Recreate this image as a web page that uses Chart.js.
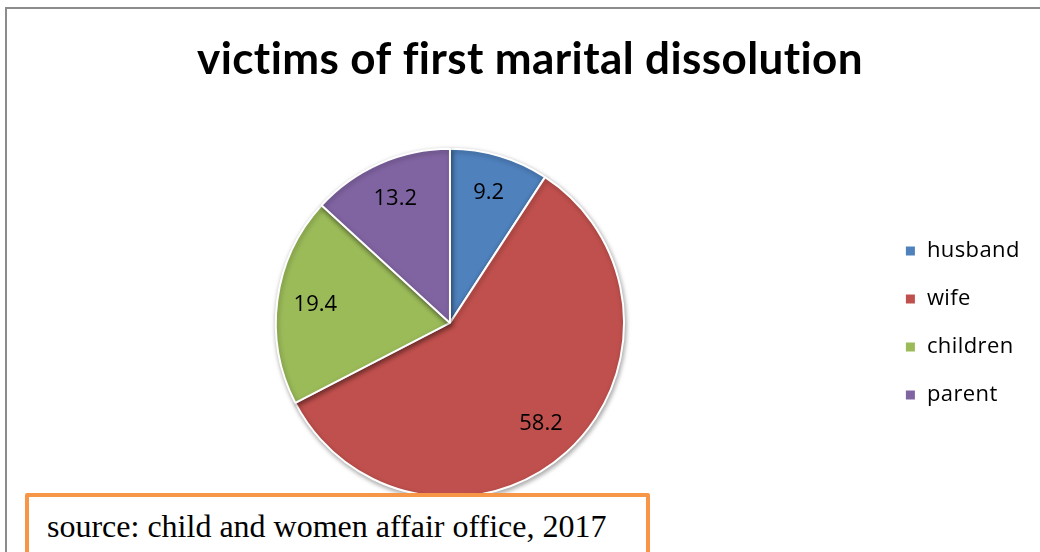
<!DOCTYPE html>
<html>
<head>
<meta charset="utf-8">
<script src="https://cdn.jsdelivr.net/npm/chart.js@4.4.1/dist/chart.umd.min.js"></script>
<style>
  html, body { margin: 0; padding: 0; width: 1040px; height: 552px; overflow: hidden; background: #fff; }
  #frame { position: absolute; left: 5px; top: 7px; width: 1100px; height: 700px; border-top: 2px solid #8c8c8c; border-left: 2px solid #8c8c8c; }
  #wrap { position: absolute; left: 15px; top: 0; width: 1050px; height: 552px; }
  #source { position: absolute; left: 25px; top: 493px; width: 617px; height: 70px; border: 4px solid #F79646; border-radius: 2px; background: #fff;
            font-family: "Liberation Serif", "Times New Roman", serif; font-size: 32px; color: #000; box-sizing: content-box; }
  #source span { position: absolute; left: 18px; top: 11px; white-space: nowrap; }
</style>
</head>
<body>
<div id="frame"></div>
<div id="wrap"><canvas id="c"></canvas></div>
<div id="source"><span>source: child and women affair office, 2017</span></div>
<script>
const titleText = "victims of first marital dissolution";
const categories = ["husband", "wife", "children", "parent"];
const values = [9.2, 58.2, 19.4, 13.2];
const colors = ["#4F81BD", "#C0504D", "#9BBB59", "#8064A2"];

const spacingPlugin = {
  id: 'noLigatures',
  afterLayout(chart) {
    const t = chart.titleBlock;
    if (t) { t.left += 6; t.right += 6; }
  },
  beforeDraw(chart) {
    chart.ctx.letterSpacing = '0.4px';
  }
};

const shadowPlugin = {
  id: 'pieShadow',
  beforeDatasetsDraw(chart) {
    const ctx = chart.ctx;
    ctx.save();
    ctx.shadowColor = 'rgba(0,0,0,0.35)';
    ctx.shadowBlur = 5;
    ctx.shadowOffsetX = 1;
    ctx.shadowOffsetY = 2;
  },
  afterDatasetsDraw(chart) {
    chart.ctx.restore();
  }
};

const labelPlugin = {
  id: 'sliceLabels',
  afterDraw(chart) {
    const ctx = chart.ctx;
    const meta = chart.getDatasetMeta(0);
    ctx.save();
    ctx.letterSpacing = '0px';
    ctx.font = '22px "Open Sans", sans-serif';
    ctx.fillStyle = '#000';
    ctx.textAlign = 'center';
    ctx.textBaseline = 'middle';
    meta.data.forEach((arc, i) => {
      const p = arc.getProps(['x', 'y', 'startAngle', 'endAngle', 'outerRadius'], true);
      const mid = (p.startAngle + p.endAngle) / 2;
      const r = p.outerRadius * 0.78;
      ctx.fillText(String(values[i]), p.x + Math.cos(mid) * r, p.y + Math.sin(mid) * r);
    });
    ctx.restore();
  }
};

new Chart(document.getElementById('c'), {
  type: 'pie',
  data: {
    labels: categories,
    datasets: [{
      data: values,
      backgroundColor: colors,
      borderColor: '#ffffff',
      borderWidth: 2
    }]
  },
  options: {
    responsive: true,
    maintainAspectRatio: false,
    animation: false,
    layout: { padding: { left: 6, right: 38, bottom: 54, top: 0 } },
    plugins: {
      title: {
        display: true,
        text: titleText,
        color: '#000',
        font: { family: 'Lato', size: 44, weight: 'bold' },
        padding: { top: 33, bottom: 62 }
      },
      legend: {
        position: 'right',
        fullSize: false,
        labels: {
          boxWidth: 11,
          boxHeight: 11,
          color: '#000',
          font: { family: '"Open Sans"', size: 22 },
          padding: 26
        }
      },
      tooltip: { enabled: false }
    }
  },
  plugins: [spacingPlugin, shadowPlugin, labelPlugin]
});
</script>
</body>
</html>
